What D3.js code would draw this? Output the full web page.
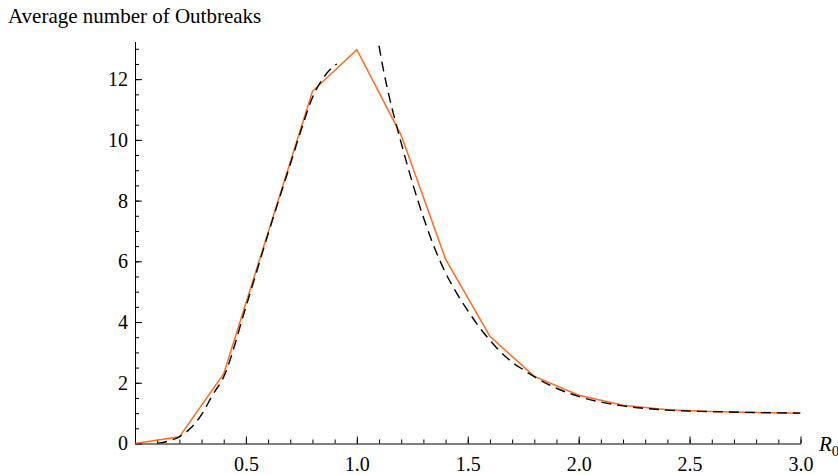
<!DOCTYPE html>
<html>
<head>
<meta charset="utf-8">
<script src="https://cdn.jsdelivr.net/npm/d3@7"></script>
<style>
  body { margin: 0; background: #fff; }
  text { font-family: "Liberation Serif", "Tinos", "Times New Roman", "DejaVu Serif", serif; }
</style>
</head>
<body>
<div id="chart"></div>
<script>
// simulated outbreaks (orange)
var obsR   = [0, 0.2, 0.4, 0.6, 0.8, 1.0, 1.2, 1.4, 1.6, 1.8, 2.0, 2.2, 2.4, 2.6, 2.8, 3.0];
var obsAvg = [0, 0.22, 2.3, 6.95, 11.6, 12.97, 10.15, 6.07, 3.53, 2.21, 1.59, 1.26, 1.11, 1.05, 1.02, 1.0];

// theory curve (dashed), two branches either side of R0 = 1
var leftR   = [0.1, 0.15, 0.2, 0.25, 0.3, 0.35, 0.4, 0.5, 0.6, 0.7, 0.75, 0.8, 0.85, 0.9, 0.91];
var leftAvg = [0, 0.08, 0.22, 0.5, 0.95, 1.6, 2.2, 4.5, 6.9, 9.2, 10.35, 11.4, 12.05, 12.45, 12.5];
var rightR   = [1.1, 1.12, 1.15, 1.2, 1.25, 1.3, 1.35, 1.4, 1.45, 1.5, 1.55, 1.6, 1.65, 1.7, 1.75, 1.8, 1.9, 2.0, 2.2, 2.4, 2.6, 2.8, 3.0];
var rightAvg = [13.1, 12.3, 11.3, 9.9, 8.6, 7.45, 6.45, 5.62, 4.95, 4.38, 3.85, 3.4, 3.0, 2.68, 2.43, 2.2, 1.82, 1.55, 1.24, 1.1, 1.05, 1.02, 1.0];

var xMajor = [0.5, 1.0, 1.5, 2.0, 2.5, 3.0];
var yMajor = [0, 2, 4, 6, 8, 10, 12];

const width = 838, height = 475;
const x0 = 135, x1 = 800.5, yBottom = 443.5, yTop = 41.5;

const svg = d3.select("#chart").append("svg")
    .attr("width", width)
    .attr("height", height);

var x = d3.scaleLinear().domain([0, 3]).range([x0, x1]);
var y = d3.scaleLinear().domain([0, 13.24]).range([yBottom, yTop]);

svg.append("defs").append("clipPath").attr("id", "plot")
    .append("rect")
    .attr("x", x0).attr("y", yTop)
    .attr("width", x1 - x0).attr("height", yBottom - yTop);

// x axis: minor then major ticks pointing up
var xMinor = d3.range(1, 31).map(function(d) { return d / 10; });
svg.append("g")
    .attr("transform", "translate(0," + yBottom + ")")
    .call(d3.axisBottom(x).tickValues(xMinor).tickSize(-4).tickSizeOuter(0).tickFormat(""))
    .call(function(g) { g.select(".domain").remove(); });
svg.append("g")
    .attr("class", "xaxis")
    .attr("transform", "translate(0," + yBottom + ")")
    .call(d3.axisBottom(x).tickValues(xMajor).tickSize(-7).tickSizeOuter(0).tickFormat(d3.format(".1f")))
    .call(function(g) {
        g.selectAll("text").attr("y", 13).attr("dy", "0.71em");
    });

// y axis: ticks pointing right
var yMinor = d3.range(1, 27).map(function(d) { return d / 2; });
svg.append("g")
    .attr("transform", "translate(" + x0 + ",0)")
    .call(d3.axisLeft(y).tickValues(yMinor).tickSize(-4).tickSizeOuter(0).tickFormat(""))
    .call(function(g) { g.select(".domain").remove(); });
svg.append("g")
    .attr("class", "yaxis")
    .attr("transform", "translate(" + x0 + ",0)")
    .call(d3.axisLeft(y).tickValues(yMajor).tickSize(-7).tickSizeOuter(0).tickFormat(d3.format("d")))
    .call(function(g) {
        g.selectAll("text").attr("x", -7);
    });

svg.selectAll(".tick line, .domain")
    .attr("stroke", "#000")
    .attr("stroke-width", 1);
svg.selectAll(".tick text")
    .attr("fill", "#000")
    .attr("font-family", null)
    .style("font-size", "20px");

var line = d3.line()
    .x(function(d) { return x(d[0]); })
    .y(function(d) { return y(d[1]); });
var smooth = d3.line()
    .x(function(d) { return x(d[0]); })
    .y(function(d) { return y(d[1]); })
    .curve(d3.curveMonotoneX);

var plot = svg.append("g").attr("clip-path", "url(#plot)");

plot.append("path")
    .datum(d3.zip(obsR, obsAvg))
    .attr("d", line)
    .attr("fill", "none")
    .attr("stroke", "#ff6c1e")
    .attr("stroke-width", 1.5);

[d3.zip(leftR, leftAvg), d3.zip(rightR, rightAvg)].forEach(function(branch) {
    plot.append("path")
        .datum(branch)
        .attr("d", smooth)
        .attr("fill", "none")
        .attr("stroke", "#000")
        .attr("stroke-width", 1.4)
        .attr("stroke-dasharray", "10,6");
});

// labels
svg.append("text")
    .attr("x", 8)
    .attr("y", 23)
    .style("font-size", "21px")
    .text("Average number of Outbreaks");

var rl = svg.append("text")
    .attr("x", 819)
    .attr("y", 451)
    .style("font-size", "21px")
    .style("font-style", "italic");
rl.append("tspan").text("R");
rl.append("tspan")
    .attr("dy", 5)
    .style("font-size", "15px")
    .style("font-style", "normal")
    .text("0");
</script>
</body>
</html>
